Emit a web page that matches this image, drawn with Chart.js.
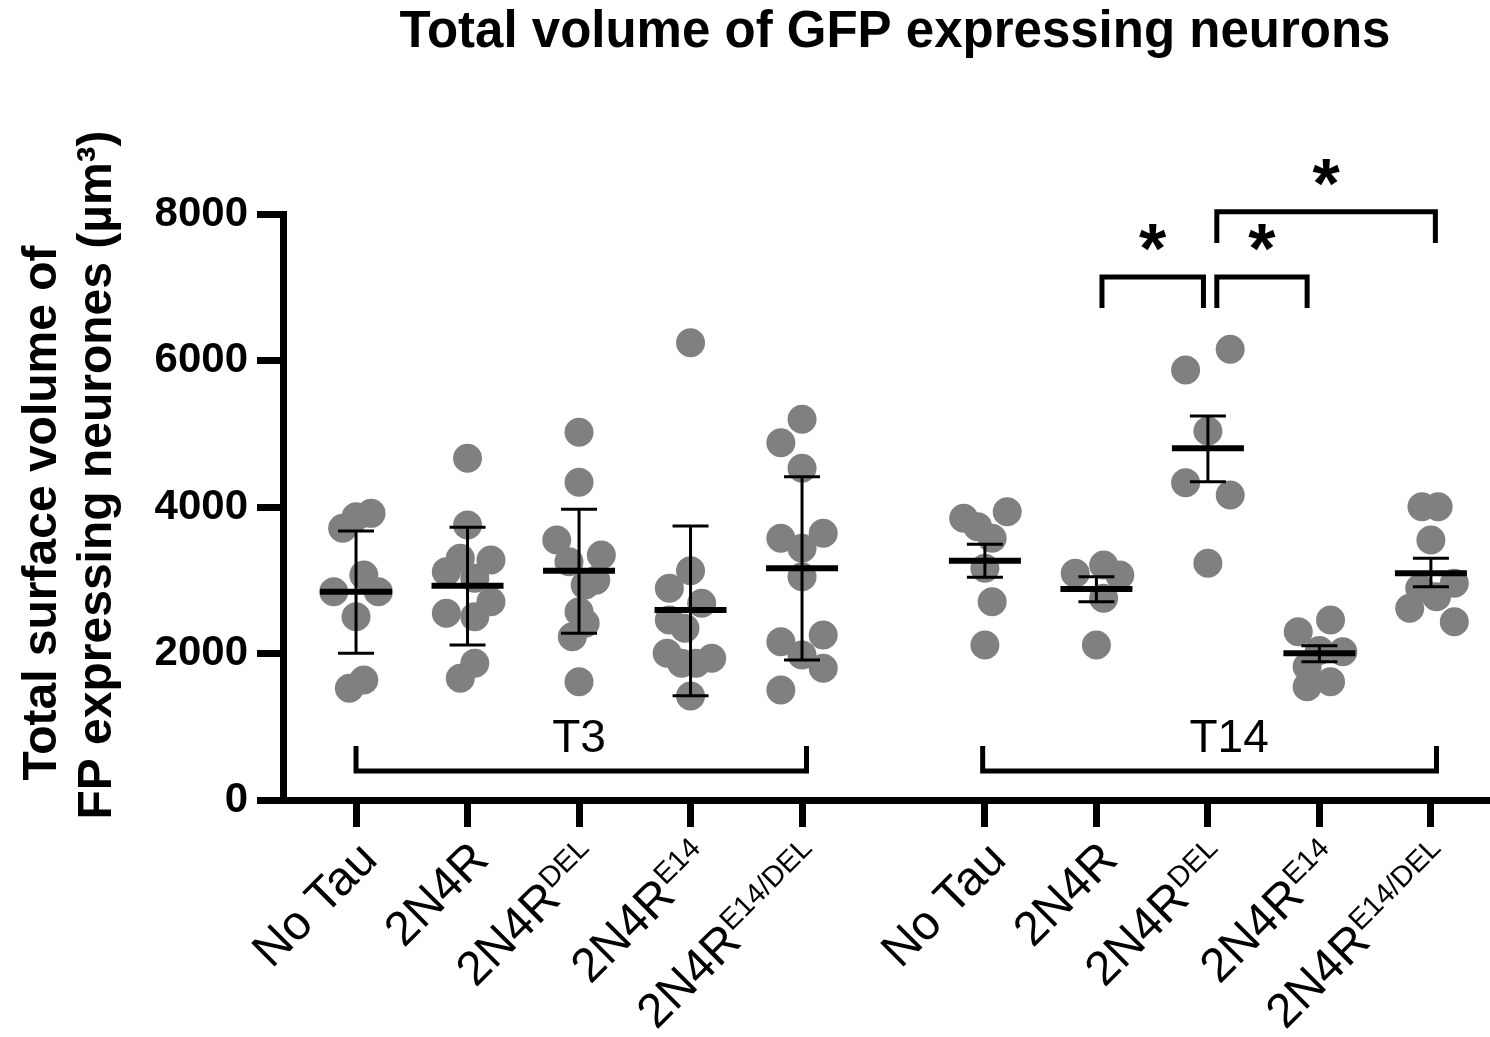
<!DOCTYPE html>
<html>
<head>
<meta charset="utf-8">
<script src="https://cdn.jsdelivr.net/npm/chart.js@4.4.0/dist/chart.umd.min.js"></script>
<style>
html,body{margin:0;padding:0;background:#fff;}
#wrap{width:1490px;height:1037px;position:relative;}
</style>
</head>
<body>
<div id="wrap"><canvas id="c" width="1490" height="1037"></canvas></div>
<script>
// ---------- data ----------
const chartTitle = 'Total volume of GFP expressing neurons';
const yTitleLines = ['Total surface volume of', 'FP expressing neurones (µm³)'];
const categories = ['No Tau', '2N4R', '2N4R', '2N4R', '2N4R', 'No Tau', '2N4R', '2N4R', '2N4R', '2N4R'];
const superscripts = ['', '', 'DEL', 'E14', 'E14/DEL', '', '', 'DEL', 'E14', 'E14/DEL'];
const catPositions = [0, 1, 2, 3, 4, 5.64, 6.64, 7.64, 8.64, 9.64];
const groups = ['T3', 'T14'];
const groupSpans = [[0, 4.04], [5.62, 9.69]];
const groupLabelX = [2.0, 7.83];
const yTicks = [0, 2000, 4000, 6000, 8000];

const pointValues = [
  [3709, 3868, 3913, 3072, 2844, 2844, 2503, 1638, 1525],
  [4664, 3754, 3300, 3277, 3117, 3026, 2708, 2548, 2503, 1866, 1661],
  [5019, 4337, 3549, 3345, 3254, 3000, 2935, 2571, 2412, 2230, 1615],
  [6243, 3131, 2890, 2685, 2457, 2344, 2002, 1934, 1866, 1866, 1420],
  [5197, 4878, 4528, 3641, 3572, 3436, 3049, 2253, 2162, 1980, 1798, 1502],
  [3845, 3731, 3936, 3572, 3163, 2708, 2116],
  [3208, 3094, 3072, 2753, 2116],
  [6152, 5870, 5038, 4332, 4164, 3231],
  [2457, 2298, 2040, 2025, 1820, 1615, 1547],
  [4004, 4004, 3549, 2958, 2890, 2776, 2617, 2434]
];
const pointOffsets = [
  [-0.12, 0, 0.135, 0.07, -0.2, 0.2, 0, 0.07, -0.06],
  [0, 0, -0.065, 0.21, -0.19, 0.065, 0.21, -0.19, 0.065, 0.065, -0.065],
  [0, 0, -0.2, 0.2, -0.09, 0.15, 0.055, 0, 0.055, -0.06, 0],
  [0, 0, -0.19, 0.1, -0.19, -0.05, -0.21, 0.19, 0.05, -0.08, 0],
  [0, -0.19, 0, 0.19, -0.19, 0, 0, 0.19, -0.19, 0, 0.19, -0.19],
  [-0.19, -0.065, 0.2, 0.065, 0, 0.065, 0],
  [0.065, -0.19, 0.21, 0.065, 0],
  [0.2, -0.2, 0, -0.2, 0.2, 0],
  [0.1, -0.19, 0, 0.21, -0.11, 0.1, -0.11],
  [-0.08, 0.065, 0, 0.21, -0.1, 0.05, -0.19, 0.21]
];
const means    = [2844, 2926, 3131, 2594, 3163, 3267, 2881, 4801, 2002, 3094];
const errUpper = [3672, 3722, 3968, 3741, 4414, 3490, 3049, 5242, 2107, 3300];
const errLower = [2002, 2116, 2275, 1424, 1911, 3040, 2708, 4346, 1888, 2912];

// significance brackets: [xStart, xEnd, yTop, yDrop] in data units
const sigBrackets = [
  [6.69, 7.60, 7140, 6717],
  [7.72, 8.53, 7140, 6717],
  [7.72, 9.68, 8031, 7604]
];
const sigLabels = ['*', '*', '*'];
const groupBracketY = [396, 737]; // horizontal, tips (data units)
const groupLabelBaseline = 656;

// ---------- build datasets ----------
const scatterPts = [];
pointValues.forEach((vals, i) => {
  vals.forEach((v, j) => scatterPts.push({x: catPositions[i] + pointOffsets[i][j], y: v}));
});
const meanPts = means.map((m, i) => ({x: catPositions[i], y: m}));
const capPts = [];
const errLine = [];
errLower.forEach((lo, i) => {
  capPts.push({x: catPositions[i], y: lo});
  capPts.push({x: catPositions[i], y: errUpper[i]});
  errLine.push({x: catPositions[i], y: lo});
  errLine.push({x: catPositions[i], y: errUpper[i]});
  errLine.push({x: catPositions[i], y: null});
});

const FONT = '"Liberation Sans", Arial, Helvetica, sans-serif';

const annot = {
  id: 'annot',
  afterDraw(chart) {
    const ctx = chart.ctx;
    const xs = chart.scales.x, ys = chart.scales.y;
    const ca = chart.chartArea;
    ctx.save();
    ctx.fillStyle = '#000';
    ctx.strokeStyle = '#000';

    // main title
    ctx.font = 'bold 51px ' + FONT;
    ctx.textAlign = 'center';
    ctx.textBaseline = 'alphabetic';
    ctx.fillText(chartTitle, 895, 47);

    // y title
    ctx.font = 'bold 48px ' + FONT;
    [[56, 513], [111, 475]].forEach((p, k) => {
      ctx.save();
      ctx.translate(p[0], p[1]);
      ctx.rotate(-Math.PI / 2);
      ctx.fillText(yTitleLines[k], 0, 0);
      ctx.restore();
    });

    // x labels (rotated, with superscripts)
    const mainFont = '48px ' + FONT, supFont = '29px ' + FONT;
    const baseY = ca.bottom + 27;
    categories.forEach((lab, i) => {
      const px = xs.getPixelForValue(catPositions[i]);
      ctx.save();
      ctx.translate(px, baseY);
      ctx.rotate(-Math.PI / 4);
      ctx.textAlign = 'left';
      ctx.textBaseline = 'alphabetic';
      ctx.font = mainFont;
      const wm = ctx.measureText(lab).width;
      let ws = 0;
      if (superscripts[i]) { ctx.font = supFont; ws = ctx.measureText(superscripts[i]).width; }
      const endX = -8, base = 41;
      ctx.font = mainFont;
      ctx.fillText(lab, endX - wm - ws, base);
      if (superscripts[i]) {
        ctx.font = supFont;
        ctx.fillText(superscripts[i], endX - ws, base - 17);
      }
      ctx.restore();
    });

    // group brackets
    ctx.lineWidth = 5;
    ctx.lineCap = 'butt';
    ctx.lineJoin = 'miter';
    groups.forEach((g, k) => {
      const x1 = xs.getPixelForValue(groupSpans[k][0]);
      const x2 = xs.getPixelForValue(groupSpans[k][1]);
      const yh = ys.getPixelForValue(groupBracketY[0]);
      const yt = ys.getPixelForValue(groupBracketY[1]);
      ctx.beginPath();
      ctx.moveTo(x1, yt); ctx.lineTo(x1, yh); ctx.lineTo(x2, yh); ctx.lineTo(x2, yt);
      ctx.stroke();
      ctx.font = '46px ' + FONT;
      ctx.textAlign = 'center';
      ctx.textBaseline = 'alphabetic';
      ctx.fillText(g, xs.getPixelForValue(groupLabelX[k]), ys.getPixelForValue(groupLabelBaseline));
    });

    // significance brackets
    sigBrackets.forEach((b, k) => {
      const x1 = xs.getPixelForValue(b[0]);
      const x2 = xs.getPixelForValue(b[1]);
      const yt = ys.getPixelForValue(b[2]);
      const yd = ys.getPixelForValue(b[3]);
      ctx.beginPath();
      ctx.moveTo(x1, yd); ctx.lineTo(x1, yt); ctx.lineTo(x2, yt); ctx.lineTo(x2, yd);
      ctx.stroke();
      ctx.font = 'bold 70px ' + FONT;
      ctx.textAlign = 'center';
      ctx.textBaseline = 'alphabetic';
      const m = ctx.measureText(sigLabels[k]);
      const cy = yt - 39;
      const by = cy + (m.actualBoundingBoxAscent - m.actualBoundingBoxDescent) / 2;
      ctx.fillText(sigLabels[k], (x1 + x2) / 2, by);
    });
    ctx.restore();
  }
};

new Chart(document.getElementById('c'), {
  type: 'scatter',
  data: {
    datasets: [
      {type: 'line', data: errLine, borderColor: '#000', borderWidth: 3, pointRadius: 0,
       spanGaps: false, fill: false, order: 1, clip: false},
      {data: capPts, pointStyle: 'line', pointRadius: 18, pointHoverRadius: 18,
       borderColor: '#000', borderWidth: 3, backgroundColor: '#000', order: 1, clip: false},
      {data: meanPts, pointStyle: 'line', pointRadius: 36, pointHoverRadius: 36,
       borderColor: '#000', borderWidth: 6, backgroundColor: '#000', order: 1, clip: false},
      {data: scatterPts, pointRadius: 14.5, pointHoverRadius: 14.5, backgroundColor: '#808080',
       borderWidth: 0, order: 5, clip: false}
    ]
  },
  options: {
    responsive: false,
    animation: false,
    devicePixelRatio: 1,
    events: [],
    layout: {autoPadding: false, padding: {top: 214, left: 0, right: 0, bottom: 0}},
    plugins: {legend: {display: false}, tooltip: {enabled: false}, title: {display: false}},
    scales: {
      x: {
        type: 'linear', min: -0.655, max: 10.17,
        afterBuildTicks: s => { s.ticks = catPositions.map(v => ({value: v})); },
        afterFit: s => { s.height = 237; },
        ticks: {display: false},
        grid: {display: true, drawOnChartArea: false, drawTicks: true, tickLength: 27, tickWidth: 7, tickColor: '#000'},
        border: {display: true, width: 7, color: '#000'}
      },
      y: {
        type: 'linear', min: 0, max: 8000,
        afterBuildTicks: s => { s.ticks = yTicks.map(v => ({value: v})); },
        afterFit: s => { s.width = 283; },
        ticks: {font: {family: FONT, size: 42, weight: 'bold'}, color: '#000', padding: 9,
                callback: v => String(v)},
        grid: {display: true, drawOnChartArea: false, drawTicks: true, tickLength: 26, tickWidth: 7, tickColor: '#000'},
        border: {display: true, width: 7, color: '#000'}
      }
    }
  },
  plugins: [annot]
});
</script>
</body>
</html>
